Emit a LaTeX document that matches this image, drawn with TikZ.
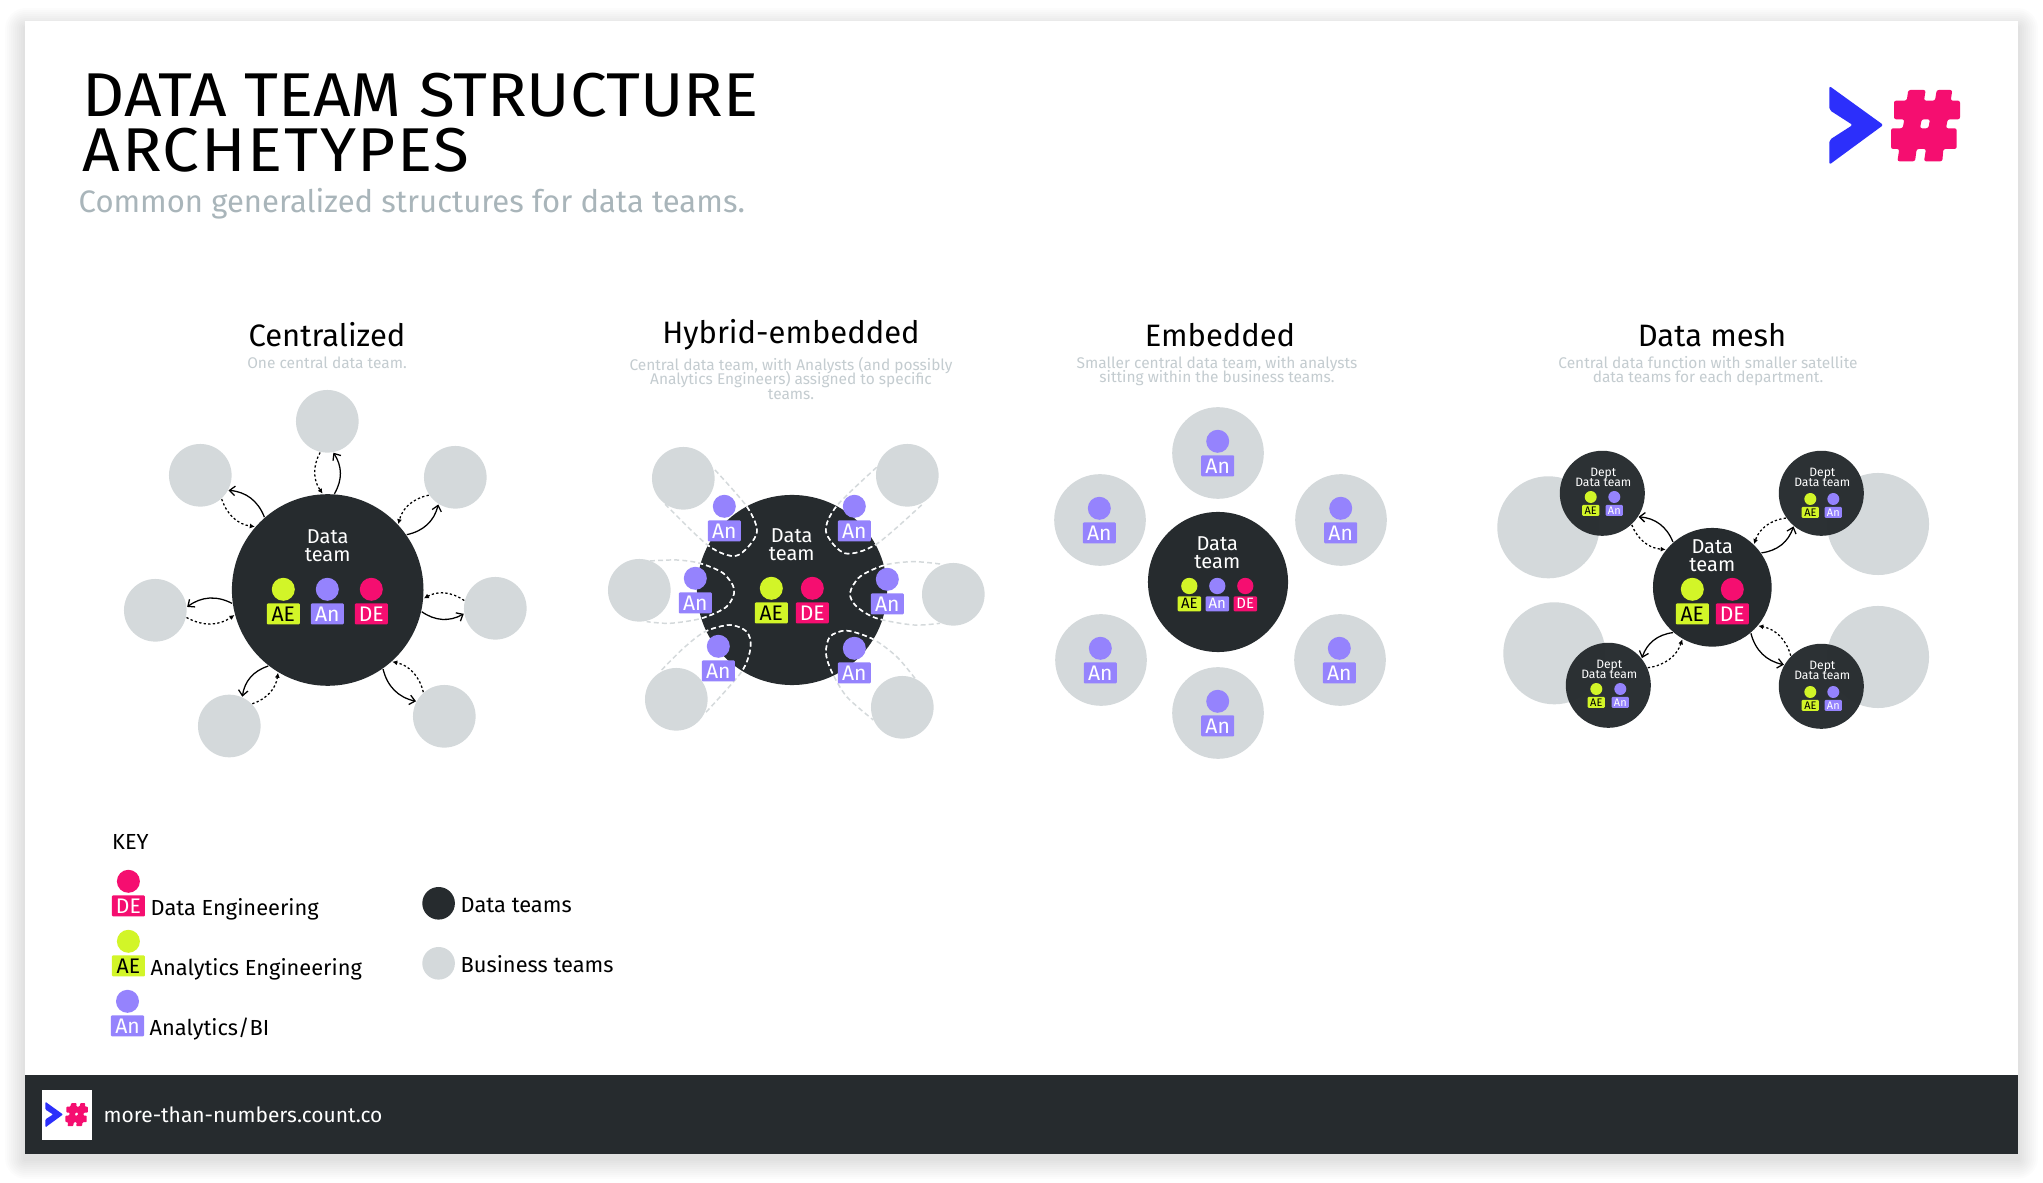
\documentclass[tikz,border=0pt]{standalone}
\usepackage{fontspec}
\setmainfont{Fira Sans}
\newfontfamily\headfont[FakeStretch=1.06]{Fira Sans}
\usepackage{xcolor}
\usetikzlibrary{
    arrows.meta,
    positioning,
    shapes.geometric
}
\definecolor{teamdark}{RGB}{38,43,46}
\definecolor{bizgray}{RGB}{212,217,219}
\definecolor{limeae}{RGB}{210,245,40}
\definecolor{violetan}{RGB}{149,131,253}
\definecolor{pinkde}{RGB}{245,14,112}
\definecolor{logoblue}{RGB}{44,47,251}
\definecolor{subgray}{RGB}{169,181,186}
\definecolor{notegray}{RGB}{196,204,208}

% tight leading for stacked labels
\newcommand{\tightfont}[2]{\fontsize{#1}{#2}\selectfont\lineskiplimit=-10pt\relax}
% head dot and tag of one role
\newcommand{\person}[6]{%
    \node[headdot, fill=#4, scale=#3] (#1h) at (#2) {};
    \node[tagbox, fill=#4, text=#5, scale=#3, below=0.012cm of #1h] (#1t) {#6};
}
% chevron and hash mark
\newcommand{\countlogo}[3]{%
    \begin{scope}[shift={#1}, scale=#2]
        \fill[logoblue, rounded corners=#3] (148,78) -- (310,195) -- (148,314) -- (148,240) -- (218,195) -- (148,150) -- cycle;
        \fill[pinkde, even odd rule, rounded corners=#3] (385,90) -- (437,90) -- (432,122) -- (465,122) -- (470,90) -- (517,90) -- (512,122) -- (540,122) -- (540,178) -- (503,178) -- (498,205) -- (530,205) -- (530,267) -- (490,267) -- (487,304) -- (432,304) -- (438,267) -- (410,267) -- (405,304) -- (352,304) -- (358,267) -- (333,267) -- (333,205) -- (368,205) -- (373,178) -- (342,178) -- (342,122) -- (380,122) -- cycle
            (425,178) -- (450,178) -- (445,205) -- (420,205) -- cycle;
    \end{scope}
}
% routes around the embedded analysts
\newcommand{\hybridroutes}[1]{%
    \draw[#1] plot[smooth] coordinates {(375,270) (472,382) (500,460) (440,527) (355,497) (225,372)};
    \draw[#1] plot[smooth] coordinates {(860,262) (740,378) (708,455) (765,520) (860,492) (998,372)};
    \draw[#1] plot[smooth] coordinates {(180,543) (260,540) (330,550) (400,580) (433,630) (410,680) (335,715) (240,730) (170,725)};
    \draw[#1] plot[smooth] coordinates {(1050,552) (970,545) (885,555) (810,590) (780,640) (800,680) (860,715) (970,735) (1050,730)};
    \draw[#1] plot[smooth] coordinates {(215,870) (280,805) (345,755) (420,735) (470,755) (482,800) (455,875) (345,1000)};
    \draw[#1] plot[smooth] coordinates {(975,895) (920,830) (850,778) (770,752) (720,770) (708,820) (725,875) (770,950) (850,1020)};
}

\begin{document}
\begin{tikzpicture}[
    x=0.01cm, y=-0.01cm,
    hubteam/.style={circle, fill=teamdark, inner sep=0pt},
    deptteam/.style={circle, fill=teamdark, fill opacity=0.97, inner sep=0pt, minimum size=0.85cm},
    bizteam/.style={circle, fill=bizgray, inner sep=0pt},
    headdot/.style={circle, inner sep=0pt, minimum size=0.23cm},
    tagbox/.style={rectangle, rounded corners=0.3pt, inner sep=0pt, minimum width=0.33cm, minimum height=0.21cm, font=\fontsize{6pt}{6pt}\selectfont},
    hubtext/.style={text=white, align=center, font=\tightfont{5.7pt}{5.15pt}},
    depttext/.style={text=white, align=center, font=\tightfont{3.45pt}{3.05pt}},
    archetitle/.style={font=\fontsize{8.8pt}{9pt}\selectfont},
    archenote/.style={text=notegray, align=center, font=\tightfont{4.4pt}{4.1pt}},
    keytext/.style={anchor=base west, font=\fontsize{6.2pt}{7pt}\selectfont},
    linkarrow/.style={-{Straight Barb[length=0.55mm, width=0.95mm]}, line width=0.36pt, black},
    linkdots/.style={-{Latex[length=0.5mm, width=0.5mm]}, line width=0.36pt, dash pattern=on 0.65pt off 0.65pt, black},
    routeline/.style={line width=0.42pt, dash pattern=on 1.4pt off 0.9pt}
]
\useasboundingbox (0,0) rectangle (2043,1183);

% Card and shadow
\foreach \i in {20,18,...,2} {
    \fill[black, opacity=0.012, rounded corners=\i*0.3pt] (25-\i,21+7-\i) rectangle (2018+\i,1154+5+\i);
}
\fill[white] (25,21) rectangle (2018,1075);
\fill[teamdark] (25,1075) rectangle (2018,1154);
\fill[white] (42,1090) rectangle (92,1140);

% Header
\node[anchor=north west, align=left, inner sep=0pt, font=\headfont\tightfont{17.6pt}{15.65pt}] (pagetitle) at (82,72) {DATA TEAM STRUCTURE\\{\addfontfeature{LetterSpace=2.8}ARCHETYPES}};
\node[anchor=base west, inner sep=0pt, text=subgray, font=\fontsize{8.83pt}{10pt}\selectfont] (pagesub) at (78,213) {Common generalized structures for data teams.};
\countlogo{(1780,60)}{0.3333}{0.6pt}
\countlogo{(29.5,1093.4)}{0.108}{0.25pt}
\node[anchor=base west, inner sep=0pt, text=white, font=\fontsize{5.96pt}{7pt}\selectfont] (footlink) at (103,1122.5) {more-than-numbers.count.co};

% Centralized
\node[archetitle] (centitle) at (327,335) {Centralized};
\node[archenote] (cennote) at (327,362.5) {One central data team.};
\node[hubteam, minimum size=1.915cm] (cenhub) at (327.7,590) {};
\node[hubtext] (cenlabel) at (327.7,546) {Data\\team};
\foreach \n/\px/\py in {1/327.3/421.3, 2/455.3/477.3, 3/495.3/608.3, 4/444.3/716.3, 5/229.3/726, 6/155.3/610.3, 7/200.3/475.3} {
    \node[bizteam, minimum size=0.626cm] (cen\n) at (\px,\py) {};
}
\foreach \n/\hubout/\bizin/\hubin/\bizout in {1/86.6/-79/93.5/-103, 2/35.4/-122.5/43.3/-146.8, 3/-13.5/-170/-5.9/166.5, 4/-55.9/152.7/-48.4/131.3, 5/-128.7/66.7/-121/44, 6/-172.7/6.3/-165.5/-13.5, 7/131.6/-28.3/139/-48} {
    \draw[linkarrow] (cenhub.\hubout) to[bend right=32] (cen\n.\bizin);
    \draw[linkdots] (cen\n.\bizout) to[bend right=32] (cenhub.\hubin);
}
\person{cenae}{283.3,589.3}{1}{limeae}{black}{AE}
\person{cenan}{327.3,589.3}{1}{violetan}{white}{An}
\person{cende}{371.3,589.3}{1}{pinkde}{white}{DE}

% Hybrid-embedded
\node[archetitle] (hybtitle) at (791,335) {Hybrid-embedded};
\node[archenote] (hybnote) at (791,378.5) {Central data team, with Analysts (and possibly\\Analytics Engineers) assigned to specific\\teams.};
\node[hubteam, minimum size=1.9cm] (hybhub) at (792,590) {};
\begin{scope}[shift={(590,380)}, scale=0.3333]
    \hybridroutes{routeline, bizgray}
\end{scope}
\begin{scope}
    \clip (792,590) circle (95);
    \begin{scope}[shift={(590,380)}, scale=0.3333]
        \hybridroutes{routeline, white}
    \end{scope}
\end{scope}
\node[hubtext] (hyblabel) at (791.7,544.3) {Data\\team};
\foreach \n/\px/\py in {1/683.3/478.3, 2/907.3/475.3, 3/639.3/590.3, 4/953.3/594.3, 5/676.3/699.3, 6/902.3/707.3} {
    \node[bizteam, minimum size=0.626cm] (hyb\n) at (\px,\py) {};
}
\foreach \n/\px/\py in {1/724.3/506.3, 2/854.3/506.3, 3/695.3/578.3, 4/887.3/579.3, 5/718.3/646.3, 6/854.3/648.3} {
    \person{hyban\n}{\px,\py}{1}{violetan}{white}{An}
}
\person{hybae}{771.3,588.3}{1}{limeae}{black}{AE}
\person{hybde}{812.3,588.3}{1}{pinkde}{white}{DE}

% Embedded
\node[archetitle] (embtitle) at (1220,335) {Embedded};
\node[archenote] (embnote) at (1217,371) {Smaller central data team, with analysts\\sitting within the business teams.};
\node[hubteam, minimum size=1.4cm] (embhub) at (1218,582) {};
\node[hubtext] (emblabel) at (1217.3,553) {Data\\team};
\foreach \n/\px/\py/\hx/\hy in {1/1218/453/1217.7/441.3, 2/1341/520/1340.7/508.3, 3/1340/660/1339.3/648.3, 4/1218/713/1217.7/701.3, 5/1101/660/1100.3/648.3, 6/1100/520/1099.3/508.3} {
    \node[bizteam, minimum size=0.916cm] (emb\n) at (\px,\py) {};
    \person{emban\n}{\hx,\hy}{1}{violetan}{white}{An}
}
\person{embae}{1189.3,586}{0.71}{limeae}{black}{AE}
\person{emban}{1217.3,586}{0.71}{violetan}{white}{An}
\person{embde}{1245.3,586}{0.71}{pinkde}{white}{DE}

% Data mesh
\node[archetitle] (meshtitle) at (1712,335) {Data mesh};
\node[archenote] (meshnote) at (1708,371) {Central data function with smaller satellite\\data teams for each department.};
\foreach \n/\px/\py in {1/1548.3/527.3, 2/1878/524, 3/1554.3/653.3, 4/1878/657} {
    \node[bizteam, minimum size=1.02cm] (meshbiz\n) at (\px,\py) {};
}
\node[hubteam, minimum size=1.186cm] (meshhub) at (1712.3,587.3) {};
\node[hubtext] (meshlabel) at (1712.3,556) {Data\\team};
\person{meshae}{1692.3,589.3}{1}{limeae}{black}{AE}
\person{meshde}{1732.3,589.3}{1}{pinkde}{white}{DE}
\foreach \n/\px/\py/\tx/\ty/\aex/\anx/\hy in {1/1602.3/493.3/1603.3/477.3/1590.7/1614.3/497, 2/1821.3/493.3/1822.3/477.3/1810.3/1833.3/499, 3/1608.3/685.3/1609.3/669.3/1596.3/1620.3/689, 4/1821.3/686.3/1822.3/670.3/1810.3/1833.3/692} {
    \node[deptteam] (dept\n) at (\px,\py) {};
    \node[depttext] (deptlabel\n) at (\tx,\ty) {Dept\\Data team};
    \person{deptae\n}{\aex,\hy}{0.52}{limeae}{black}{AE}
    \person{deptan\n}{\anx,\hy}{0.52}{violetan}{white}{An}
}
\foreach \n/\hubout/\deptin/\hubin/\deptout in {1/131/-33/141.6/-47, 2/35.7/-130.7/46/-145.5, 3/-131/39/-120/24.5, 4/-50/150.3/-40/135.3} {
    \draw[linkarrow] (meshhub.\hubout) to[bend right=32] (dept\n.\deptin);
    \draw[linkdots] (dept\n.\deptout) to[bend right=32] (meshhub.\hubin);
}

% Key
\node[keytext, inner sep=0pt] (keyhead) at (111.5,849) {KEY};
\person{keyde}{128.4,881.3}{1}{pinkde}{white}{DE}
\person{keyae}{128.4,941.3}{1}{limeae}{black}{AE}
\person{keyan}{127.5,1001.3}{1}{violetan}{white}{An}
\node[keytext, inner sep=0pt] (keydelabel) at (150,915.3) {Data Engineering};
\node[keytext, inner sep=0pt] (keyaelabel) at (150,975.3) {Analytics Engineering};
\node[keytext, inner sep=0pt] (keyanlabel) at (149,1035.3) {Analytics/BI};
\node[hubteam, minimum size=0.326cm] (keydark) at (438.6,903.3) {};
\node[bizteam, minimum size=0.326cm] (keygray) at (438.6,963.3) {};
\node[keytext, inner sep=0pt] (keydarklabel) at (460,912) {Data teams};
\node[keytext, inner sep=0pt] (keygraylabel) at (460,972) {Business teams};

\end{tikzpicture}
\end{document}
